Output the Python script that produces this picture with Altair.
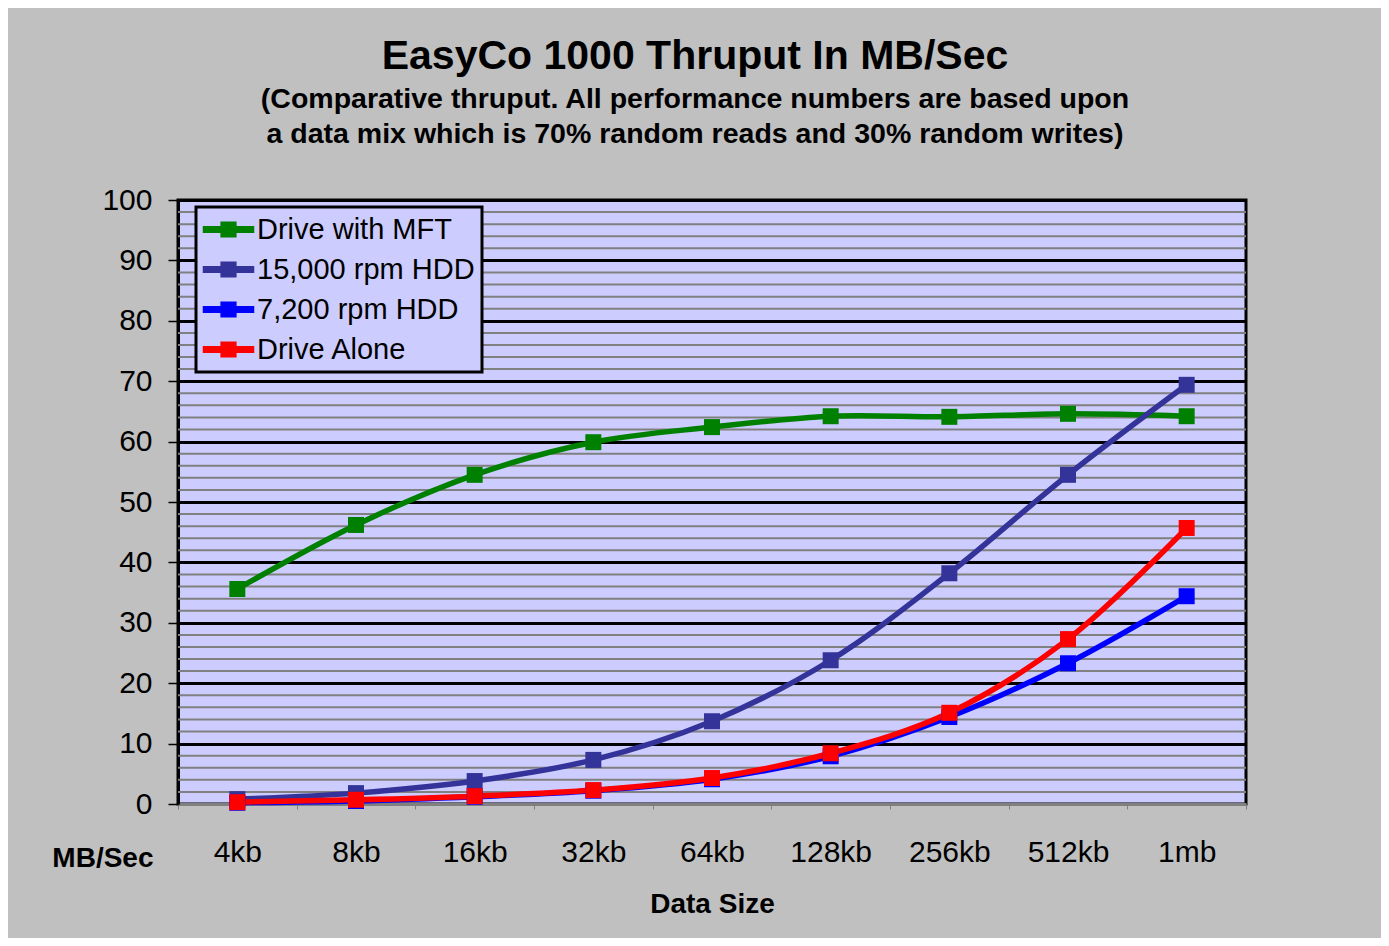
import altair as alt
import pandas as pd

categories = ["4kb", "8kb", "16kb", "32kb", "64kb", "128kb", "256kb", "512kb", "1mb"]
series_names = ["Drive with MFT", "15,000 rpm HDD", "7,200 rpm HDD", "Drive Alone"]
mft = [35.6, 46.2, 54.5, 59.9, 62.4, 64.2, 64.1, 64.6, 64.2]
hdd15k = [0.8, 1.8, 3.8, 7.3, 13.7, 23.8, 38.2, 54.5, 69.4]
hdd7200 = [0.2, 0.5, 1.2, 2.2, 4.1, 7.9, 14.4, 23.3, 34.4]
alone = [0.3, 0.7, 1.3, 2.3, 4.3, 8.4, 15.1, 27.3, 45.7]
colors = ["#008000", "#333399", "#0000FF", "#FF0000"]
major_ticks = list(range(0, 101, 10))
minor_ticks = [v for v in range(2, 100, 2) if v % 10 != 0]

rows = []
for name, vals in zip(series_names, [mft, hdd15k, hdd7200, alone]):
    for cat, v in zip(categories, vals):
        rows.append({"series": name, "size": cat, "value": v})
df = pd.DataFrame(rows)
minor_df = pd.DataFrame({"value": minor_ticks})

FONT = "Liberation Sans"

y_axis = alt.Axis(
    values=major_ticks, grid=True, gridColor="#000000", gridWidth=3,
    labelFontSize=30, labelFont=FONT, labelColor="#000000", labelPadding=16,
    tickColor="#000000", tickSize=10, tickWidth=1.5,
    domainColor="#000000", domainWidth=3,
    title="MB/Sec", titleFont=FONT, titleFontSize=28, titleFontWeight="bold",
    titleAngle=0, titleAlign="right", titleBaseline="middle",
    titleX=-25, titleY=658, titleColor="#000000",
)
y_scale = alt.Scale(domain=[0, 100], nice=False)

x_axis = alt.Axis(
    grid=False, tickBand="extent", labelAngle=0, labelFontSize=30, labelFont=FONT,
    labelColor="#000000", labelPadding=28, tickColor="#808080", tickSize=5,
    domainColor="#808080", domainWidth=3,
    title="Data Size", titleFont=FONT, titleFontSize=28, titleFontWeight="bold",
    titleColor="#000000", titlePadding=23,
)
x_scale = alt.Scale(type="band", domain=categories, paddingInner=0, paddingOuter=0)

x_enc = alt.X("size:N", sort=categories, scale=x_scale, axis=x_axis, bandPosition=0.5)
y_enc = alt.Y("value:Q", scale=y_scale, axis=y_axis)

color_scale = alt.Scale(domain=series_names, range=colors)

legend_path = ("M-1.7,-0.19L1.7,-0.19L1.7,0.19L-1.7,0.19Z "
               "M-0.5,-0.5L0.5,-0.5L0.5,0.5L-0.5,0.5Z")

legend = alt.Legend(
    orient="none", legendX=18, legendY=7,
    symbolType=legend_path, symbolSize=865, symbolOffset=10,
    labelFont=FONT, labelFontSize=29, labelColor="#000000", labelLimit=400,
    labelOffset=13, rowPadding=9,
    fillColor="#CCCCFF", strokeColor="#000000", padding=7,
)

color_enc = alt.Color("series:N", scale=color_scale, sort=series_names,
                      legend=legend, title="")

minor = alt.Chart(minor_df).mark_rule(color="#808080", strokeWidth=2).encode(y=y_enc)

lines = alt.Chart(df).mark_line(interpolate="catmull-rom", strokeWidth=5.5).encode(
    x=x_enc, y=y_enc, color=color_enc,
)

points = alt.Chart(df).mark_point(shape="square", filled=True, size=256, opacity=1).encode(
    x=x_enc, y=y_enc, color=color_enc,
)

chart = alt.layer(minor, lines, points).properties(
    width=1068, height=604,
    background="#C0C0C0",
    autosize=alt.AutoSizeParams(type="none"),
    padding={"left": 170, "top": 192, "right": 135, "bottom": 134},
    title=alt.TitleParams(
        text="EasyCo 1000 Thruput In MB/Sec",
        subtitle=["(Comparative thruput.  All performance numbers are based upon",
                  "a data mix which is 70% random reads and 30% random writes)"],
        font=FONT, fontSize=41, fontWeight="bold", color="#000000",
        subtitleFont=FONT, subtitleFontSize=28.5, subtitleFontWeight="bold",
        subtitleColor="#000000", subtitleLineHeight=35, subtitlePadding=7,
        anchor="middle", dx=-17, offset=36,
    ),
).configure_view(
    fill="#CCCCFF", stroke="#000000", strokeWidth=3
).configure_legend(strokeWidth=3)

chart.save("out.html", embed_options={"renderer": "svg", "actions": False})
